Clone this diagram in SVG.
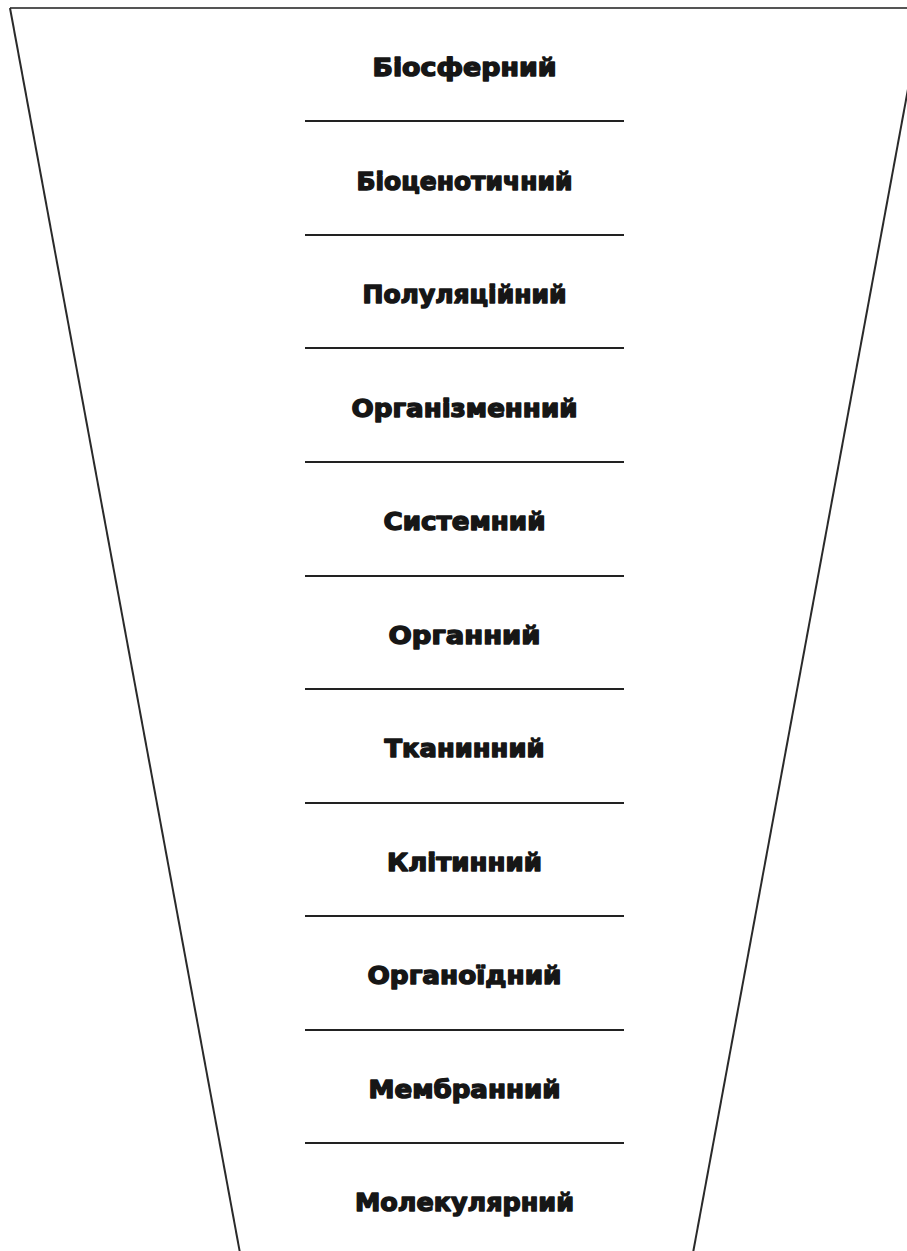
<svg xmlns="http://www.w3.org/2000/svg" width="907" height="1251" viewBox="0 0 907 1251">
<style>
.lbl{font-family:"DejaVu Sans","Liberation Sans",sans-serif;font-weight:bold;font-size:24px;fill:#161616;stroke:#161616;stroke-width:1.4;stroke-linejoin:round;text-anchor:middle;}
.div{stroke:#222;stroke-width:2;}
.edge{stroke:#2a2a2a;stroke-width:2;fill:none;}
</style>
<rect width="907" height="1251" fill="#fff"/>
<g id="funnel">
<line class="edge" x1="10" y1="8" x2="910" y2="8" style="stroke:#555"/>
<line class="edge" x1="10" y1="8" x2="240" y2="1253"/>
<line class="edge" x1="923" y1="8" x2="693" y2="1253"/>
</g>
<g id="connectors">
<line class="div" x1="305" y1="121" x2="624" y2="121"/>
<line class="div" x1="305" y1="235" x2="624" y2="235"/>
<line class="div" x1="305" y1="348" x2="624" y2="348"/>
<line class="div" x1="305" y1="462" x2="624" y2="462"/>
<line class="div" x1="305" y1="576" x2="624" y2="576"/>
<line class="div" x1="305" y1="689" x2="624" y2="689"/>
<line class="div" x1="305" y1="803" x2="624" y2="803"/>
<line class="div" x1="305" y1="916" x2="624" y2="916"/>
<line class="div" x1="305" y1="1030" x2="624" y2="1030"/>
<line class="div" x1="305" y1="1143" x2="624" y2="1143"/>
</g>
<g id="n1"><text class="lbl" x="464.5" y="76" textLength="184" lengthAdjust="spacingAndGlyphs">Біосферний</text></g>
<g id="n2"><text class="lbl" x="464.5" y="190" textLength="216" lengthAdjust="spacingAndGlyphs">Біоценотичний</text></g>
<g id="n3"><text class="lbl" x="464.5" y="303" textLength="204" lengthAdjust="spacingAndGlyphs">Полуляційний</text></g>
<g id="n4"><text class="lbl" x="464.5" y="417" textLength="226" lengthAdjust="spacingAndGlyphs">Організменний</text></g>
<g id="n5"><text class="lbl" x="464.5" y="530" textLength="162" lengthAdjust="spacingAndGlyphs">Системний</text></g>
<g id="n6"><text class="lbl" x="464.5" y="644" textLength="152" lengthAdjust="spacingAndGlyphs">Органний</text></g>
<g id="n7"><text class="lbl" x="464.5" y="757" textLength="160" lengthAdjust="spacingAndGlyphs">Тканинний</text></g>
<g id="n8"><text class="lbl" x="464.5" y="871" textLength="155" lengthAdjust="spacingAndGlyphs">Клітинний</text></g>
<g id="n9"><text class="lbl" x="464.5" y="984" textLength="194" lengthAdjust="spacingAndGlyphs">Органоїдний</text></g>
<g id="n10"><text class="lbl" x="464.5" y="1098" textLength="192" lengthAdjust="spacingAndGlyphs">Мембранний</text></g>
<g id="n11"><text class="lbl" x="464.5" y="1211" textLength="219" lengthAdjust="spacingAndGlyphs">Молекулярний</text></g>
</svg>
